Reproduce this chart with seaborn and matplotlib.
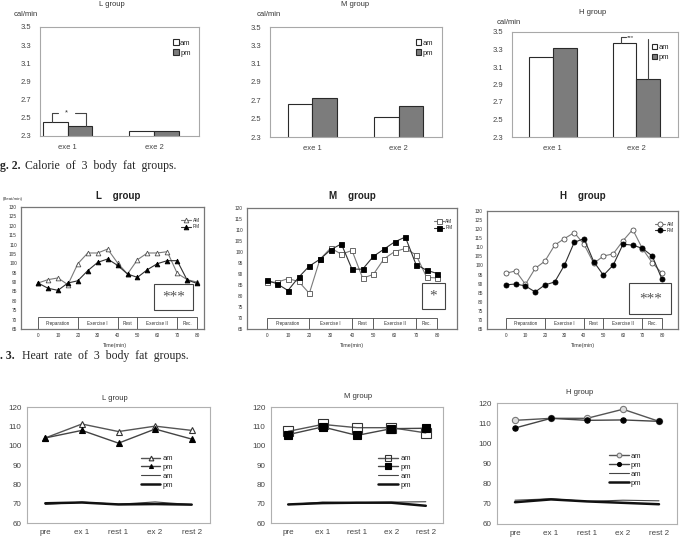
import numpy as np
import pandas as pd
import seaborn as sns
import matplotlib.pyplot as plt
from matplotlib.patches import Rectangle
from matplotlib.ticker import FixedLocator

# Fig. 2 - calorie (cal/min)
exe_labels = ["exe 1", "exe 2"]
cal_L_am = [2.45, 2.36]
cal_L_pm = [2.41, 2.36]
cal_M_am = [2.66, 2.52]
cal_M_pm = [2.72, 2.64]
cal_H_am = [3.22, 3.37]
cal_H_pm = [3.32, 2.96]
cal_ticks = [2.3, 2.5, 2.7, 2.9, 3.1, 3.3, 3.5]

# Fig. 3 - heart rate (beat/min) every 5 min
minutes = list(range(0, 85, 5))
hr_L_am = [89.5, 91.3, 92.2, 88.6, 99.8, 105.5, 105.5, 107.6, 100.2, 94.3, 101.9, 105.5, 105.5, 106.2, 94.7, 91.3, 90.0]
hr_L_pm = [89.5, 86.7, 85.6, 89.5, 90.7, 96.1, 100.5, 102.3, 98.9, 94.3, 92.5, 96.6, 99.8, 101.4, 101.4, 91.1, 89.3]
hr_M_am = [86.3, 86.3, 87.9, 86.6, 81.2, 96.7, 101.8, 99.0, 100.7, 88.1, 89.8, 96.9, 100.2, 101.6, 98.7, 88.5, 88.2]
hr_M_pm = [87.2, 85.5, 82.5, 88.5, 93.6, 96.7, 101.0, 103.7, 92.2, 92.2, 98.0, 101.3, 104.6, 106.8, 94.3, 91.7, 90.2]
hr_H_am = [95.7, 97.0, 89.6, 98.4, 102.4, 111.2, 114.8, 118.1, 111.7, 101.2, 105.2, 106.4, 113.6, 119.8, 109.2, 101.5, 95.7]
hr_H_pm = [89.3, 89.8, 88.7, 85.4, 89.3, 90.9, 100.2, 112.7, 114.8, 102.1, 94.6, 100.2, 111.7, 111.2, 109.4, 105.2, 92.4]
phase_edges = [0, 20, 40, 50, 70, 80]
phase_names = ["Preparation", "Exercise I", "Rest", "Exercise II", "Rec."]

# bottom row
stages = ["pre", "ex 1", "rest 1", "ex 2", "rest 2"]
st_L_am = [104.0, 111.2, 107.3, 110.1, 107.9]
st_L_pm = [104.0, 107.9, 101.3, 108.6, 103.4]
st_L_am2 = [69.6, 70.8, 69.7, 70.9, 69.5]
st_L_pm2 = [70.2, 70.6, 69.6, 69.8, 69.5]
st_M_am = [107.4, 111.0, 109.3, 109.3, 106.6]
st_M_pm = [105.7, 109.7, 105.3, 108.8, 109.0]
st_M_am2 = [69.5, 70.8, 70.5, 70.8, 71.0]
st_M_pm2 = [69.6, 70.3, 70.5, 70.5, 68.9]
st_H_am = [111.4, 112.4, 112.4, 116.9, 110.9]
st_H_pm = [107.6, 112.4, 111.4, 111.6, 110.9]
st_H_am2 = [71.8, 72.5, 71.2, 71.8, 71.5]
st_H_pm2 = [70.8, 72.2, 71.2, 70.5, 69.8]

sns.set_style("white")
plt.rcParams["font.family"] = ["Liberation Sans", "DejaVu Sans"]

W, H = 684, 542
fig = plt.figure(figsize=(W / 100, H / 100), dpi=100)


def px_axes(l, t, r, b):
    return fig.add_axes([l / W, 1 - b / H, (r - l) / W, (b - t) / H])


def px_text(x, y, s, **kw):
    kw.setdefault("va", "center")
    fig.text(x / W, 1 - y / H, s, **kw)


def frame(ax, color, lw):
    for sp in ax.spines.values():
        sp.set_visible(True)
        sp.set_color(color)
        sp.set_linewidth(lw)


# ---------- row 1: bars ----------
def bar_panel(ax, am, pm, xlim):
    df = pd.DataFrame({"exe": exe_labels * 2,
                       "time": ["am"] * len(am) + ["pm"] * len(pm),
                       "cal": am + pm})
    sns.barplot(data=df, x="exe", y="cal", hue="time", ax=ax, errorbar=None,
                palette={"am": "white", "pm": "#7c7c7c"}, width=0.57,
                edgecolor="#2a2a2a", linewidth=0.8)
    ax.set_ylim(2.3, 3.5)
    ax.set_xlim(*xlim)
    ax.set_yticks(cal_ticks)
    ax.set_xlabel("")
    ax.set_ylabel("")
    ax.xaxis.set_minor_locator(FixedLocator([0.5]))
    ax.tick_params(axis="both", labelsize=5.5, colors="#444", length=0, pad=6)
    ax.tick_params(axis="x", which="minor", length=2, direction="in", color="#999")
    frame(ax, "#a8a8a8", 0.8)
    sns.move_legend(ax, "upper right", bbox_to_anchor=(0.99, 0.95), frameon=False,
                    title=None, fontsize=5.5, handlelength=0.7, handleheight=0.7,
                    handletextpad=0.2, labelspacing=0.35)


axL = px_axes(40, 27, 199, 136)
bar_panel(axL, cal_L_am, cal_L_pm, (-0.32, 1.52))
# significance bracket on exe 1
top = cal_L_am[0] + 0.10
axL.plot([-0.185, -0.185, -0.11], [cal_L_am[0], top, top], color="#444", lw=0.8)
axL.plot([0.085, 0.21, 0.21], [top, top, cal_L_pm[0]], color="#444", lw=0.8)
axL.text(-0.01, top, "*", ha="center", va="center", fontsize=5.5, color="#333")

axM = px_axes(270, 27, 442, 137)
bar_panel(axM, cal_M_am, cal_M_pm, (-0.49, 1.5))

axH = px_axes(512, 32, 678, 137)
bar_panel(axH, cal_H_am, cal_H_pm, (-0.49, 1.5))
topH = cal_H_am[1] + 0.07
axH.plot([0.816, 0.816, 0.876], [cal_H_am[1], topH, topH], color="#444", lw=0.8)
axH.plot([1.1425, 1.1425], [cal_H_pm[1], 3.42], color="#444", lw=0.8)
axH.text(0.93, topH, "***", ha="center", va="center", fontsize=4.5, color="#333")

px_text(112, 5, "L group", ha="center", fontsize=5.5, color="#333")
px_text(355, 5, "M group", ha="center", fontsize=5.5, color="#333")
px_text(593, 12, "H group", ha="center", fontsize=5.5, color="#333")
px_text(14, 15, "cal/min", fontsize=5.5, color="#333")
px_text(257, 15, "cal/min", fontsize=5.5, color="#333")
px_text(497, 22, "cal/min", fontsize=5.5, color="#333")

px_text(0, 166, "g. 2.", fontsize=8.5, weight="bold", family="Liberation Serif")
px_text(25, 166, "Calorie  of  3  body  fat  groups.", fontsize=8.5, family="Liberation Serif")


# ---------- row 2: heart rate ----------
def hr_panel(ax, am, pm, marker, ms, ymax, xlim, sig, box):
    sns.lineplot(x=minutes, y=am, ax=ax, color="#7a7a7a", lw=0.8, marker=marker,
                 ms=ms, mfc="white", mec="#505050", mew=0.6, label="AM")
    sns.lineplot(x=minutes, y=pm, ax=ax, color="#303030", lw=0.8, marker=marker,
                 ms=ms, mfc="black", mec="black", mew=0.6, label="PM")
    ax.set_xlim(*xlim)
    ax.set_ylim(65, ymax)
    ax.set_xticks(range(0, 90, 10))
    ax.set_yticks(range(65, ymax + 1, 5))
    ax.set_xlabel("")
    ax.set_ylabel("")
    ax.tick_params(labelsize=3.4, length=1.5, width=0.5, pad=1.5, colors="#333")
    frame(ax, "#777", 0.9)
    # phase strip
    strip = 65 + (ymax - 65) * 0.095
    ax.add_patch(Rectangle((phase_edges[0], 65), phase_edges[-1] - phase_edges[0],
                           strip - 65, fill=False, ec="#444", lw=0.6))
    ax.vlines(phase_edges[1:-1], 65, strip, color="#444", lw=0.6)
    for a, b, name in zip(phase_edges[:-1], phase_edges[1:], phase_names):
        ax.text((a + b) / 2, (65 + strip) / 2, name, ha="center", va="center",
                fontsize=3.3, color="#333")
    # significance box
    x0, y0, x1, y1 = box
    ax.add_patch(Rectangle((x0, y0), x1 - x0, y1 - y0, fill=False, ec="#444",
                           lw=0.8, clip_on=False))
    ax.text((x0 + x1) / 2, (y0 + y1) / 2, sig, ha="center", va="center",
            fontsize=11, color="#555", family="Liberation Serif")
    ax.legend(loc="upper right", bbox_to_anchor=(0.99, 0.93), frameon=False,
              fontsize=3.4, handlelength=2.0, handletextpad=0.4, labelspacing=0.3,
              borderpad=0)


ax = px_axes(21, 207, 204, 329)
hr_panel(ax, hr_L_am, hr_L_pm, "^", 3.4, 130, (-8.6, 83.5), "***", (58.5, 75, 78, 89))
ax = px_axes(247, 208, 457, 329)
hr_panel(ax, hr_M_am, hr_M_pm, "s", 3.6, 120, (-9.2, 89.2), "*", (73, 74, 83.4, 85.8))
ax = px_axes(487, 211, 678, 329)
hr_panel(ax, hr_H_am, hr_H_pm, "o", 3.6, 130, (-9.7, 88.2), "***", (63.2, 73.2, 84.8, 90.2))

for cx, name in [(118, "L    group"), (352, "M    group"), (583, "H    group")]:
    px_text(cx, 196, name, ha="center", fontsize=7, weight="bold", color="#222")
for cx in [115, 352, 583]:
    px_text(cx, 346, "Time(min)", ha="center", fontsize=3.8, color="#333")
px_text(3, 199, "(Beat/min)", fontsize=3.2, color="#333")

px_text(0, 356, ". 3.", fontsize=8.5, weight="bold", family="Liberation Serif")
px_text(22, 356, "Heart  rate  of  3  body  fat  groups.", fontsize=8.5, family="Liberation Serif")


# ---------- row 3 ----------
def stage_panel(ax, am, pm, am2, pm2, marker, ms, am_face, am_edge):
    sns.lineplot(x=stages, y=am, ax=ax, sort=False, color="#555", lw=1.0,
                 marker=marker, ms=ms, mfc=am_face, mec=am_edge, mew=0.8, label="am")
    sns.lineplot(x=stages, y=pm, ax=ax, sort=False, color="#444", lw=1.0,
                 marker=marker, ms=ms * 0.85, mfc="black", mec="black", mew=0.8, label="pm")
    sns.lineplot(x=stages, y=am2, ax=ax, sort=False, color="#444", lw=0.8, label="am")
    sns.lineplot(x=stages, y=pm2, ax=ax, sort=False, color="#111", lw=1.8, label="pm")
    ax.set_xlim(-0.5, len(stages) - 0.5)
    ax.set_ylim(60, 120)
    ax.set_yticks(range(60, 121, 10))
    ax.set_xlabel("")
    ax.set_ylabel("")
    ax.xaxis.set_minor_locator(FixedLocator([0.5, 1.5, 2.5, 3.5]))
    ax.tick_params(labelsize=5.8, colors="#444", length=0, pad=4)
    ax.tick_params(axis="x", which="minor", length=3, direction="inout", color="#888")
    frame(ax, "#b0b0b0", 0.8)
    ax.legend(loc="upper left", bbox_to_anchor=(0.6, 0.62), frameon=False,
              fontsize=5.5, handlelength=2.6, handletextpad=0.3, labelspacing=0.2,
              borderpad=0, markerscale=0.75)


ax = px_axes(27, 407, 210, 523)
stage_panel(ax, st_L_am, st_L_pm, st_L_am2, st_L_pm2, "^", 4.5, "white", "#333")
ax = px_axes(271, 407, 443, 523)
stage_panel(ax, st_M_am, st_M_pm, st_M_am2, st_M_pm2, "s", 6.5, "none", "#333")
ax = px_axes(497, 403, 677, 524)
stage_panel(ax, st_H_am, st_H_pm, st_H_am2, st_H_pm2, "o", 4.5, "#dddddd", "#777")

px_text(115, 398, "L group", ha="center", fontsize=5.5, color="#333")
px_text(358, 397, "M group", ha="center", fontsize=5.5, color="#333")
px_text(580, 393, "H group", ha="center", fontsize=5.5, color="#333")

fig.savefig("out.png", dpi=100)
